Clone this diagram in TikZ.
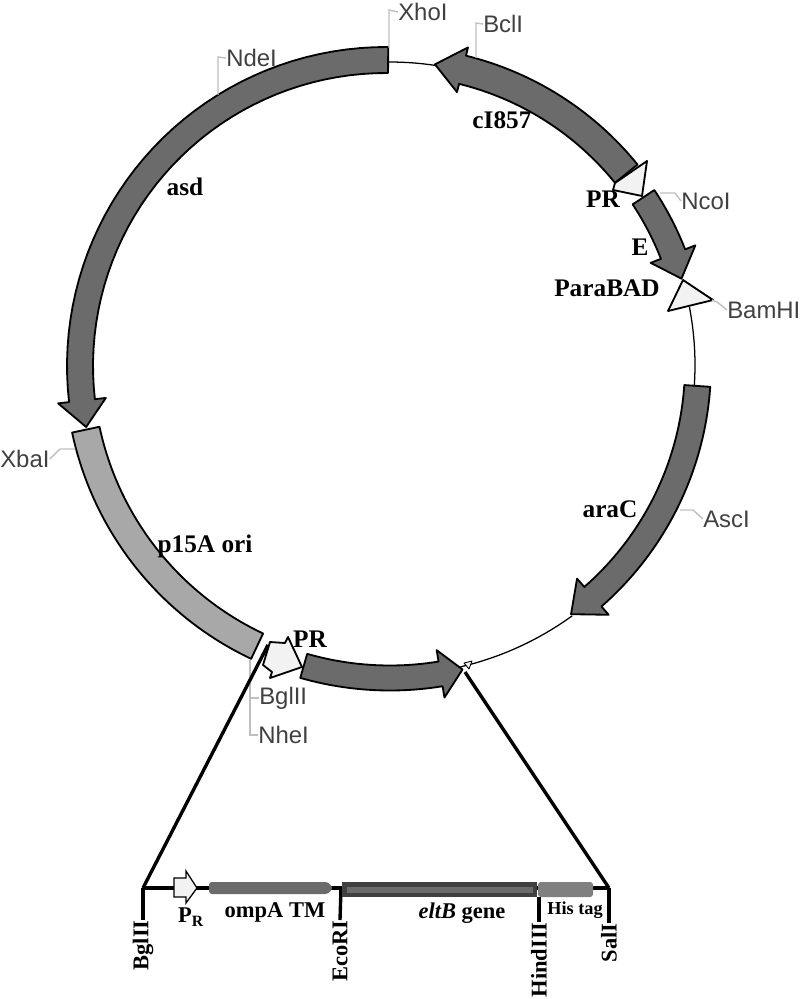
\documentclass[tikz,border=0pt]{standalone}
\usepackage{fontspec}
\setmainfont{Liberation Serif}
\setsansfont{Liberation Sans}
\usepackage{tikz}
\usetikzlibrary{arrows.meta,positioning}

\definecolor{genedark}{gray}{0.42}
\definecolor{genemid}{gray}{0.66}
\definecolor{promoter}{gray}{0.95}
\definecolor{leadergray}{gray}{0.75}

\tikzset{
  genearrow/.style={draw=black, line width=1.3pt, line join=round},
  backbone/.style={draw=black, line width=0.9pt},
  leader/.style={draw=leadergray, line width=1pt},
  sitelabel/.style={font=\sffamily\fontsize{17}{20}\selectfont, text=black!75, inner sep=0pt},
  genelabel/.style={font=\bfseries\fontsize{18}{20}\selectfont, inner sep=0pt},
  maplabel/.style={font=\bfseries\fontsize{16}{18}\selectfont, inner sep=0pt},
  mapline/.style={draw=black, line width=2.4pt},
  sitecut/.style={maplabel, rotate=90, anchor=east}
}

% #1 radius, #2 half width, #3 head half width, #4 start, #5 head base, #6 tip, #7 fill
\newcommand{\genearc}[7]{
  \path[genearrow, fill=#7]
    plot[domain=#4:#5, samples=40] (\x:{#1+#2})
    -- (#5:{#1+#3}) -- (#6:#1) -- (#5:{#1-#3})
    -- plot[domain=#5:#4, samples=40] (\x:{#1-#2}) -- cycle;
}

\begin{document}
\begin{tikzpicture}[x=0.025cm, y=-0.025cm]
  \useasboundingbox (0,0) rectangle (800,999);

  \begin{scope}[shift={(390,365)}]
    \draw[backbone] plot[domain=-91:-81, samples=8] (\x:303);
    \draw[backbone] plot[domain=-11:4, samples=12] (\x:305);
    \draw[backbone] plot[domain=54:77, samples=16] (\x:310);
    \genearc{304}{14.5}{23}{-39}{-76.2}{-81.5}{genedark}
    \genearc{304}{13}{24}{-33.5}{-21.4}{-16.5}{genedark}
    \genearc{308}{13}{24}{3.9}{48.8}{54}{genedark}
    \genearc{313}{12.5}{24}{106}{80.7}{76.6}{genedark}
    \genearc{311}{14}{14}{168}{115.3}{115.3}{genemid}
  \end{scope}
  \begin{scope}[shift={(386,366)}]
    \genearc{306}{13}{24}{270.4}{173.5}{168.5}{genedark}
  \end{scope}

  \path[genearrow, fill=promoter] (647,161) -- (615,183) -- (613,190) -- (642,196) -- cycle;
  \path[genearrow, fill=promoter] (683,280) -- (713,300) -- (668,311) -- cycle;
  \path[genearrow, fill=promoter] (270,642) -- (285,643) -- (288,637) -- (302,667) -- (270,678) -- (272,672) -- (263,665) -- cycle;
  \path[genearrow, fill=promoter, line width=0.6pt] (464,663) -- (472,661) -- (469,669) -- cycle;

  \node[genelabel] (cilabel) at (502,120) {cI857};
  \node[genelabel] (asdlabel) at (185,187) {asd};
  \node[genelabel] (prtop) at (603,199) {PR};
  \node[genelabel] (elabel) at (640,247) {E};
  \node[genelabel] (paralabel) at (607,288) {ParaBAD};
  \node[genelabel] (araclabel) at (610,509) {araC};
  \node[genelabel] (orilabel) at (205,546) {p15A ori};
  \node[genelabel] (prbottom) at (310,639) {PR};

  \node[sitelabel, anchor=west] (xhoi) at (398,12) {XhoI};
  \node[sitelabel, anchor=west] (bcli) at (483,24) {BclI};
  \node[sitelabel, anchor=west] (ndei) at (226,58) {NdeI};
  \node[sitelabel, anchor=west] (ncoi) at (681,201) {NcoI};
  \node[sitelabel, anchor=west] (bamhi) at (727,310) {BamHI};
  \node[sitelabel, anchor=west] (asci) at (703,519) {AscI};
  \node[sitelabel, anchor=west] (xbai) at (0,459) {XbaI};
  \node[sitelabel, anchor=west] (bglii) at (259,698) {BglII};
  \node[sitelabel, anchor=west] (nhei) at (258,735) {NheI};

  \draw[leader] (xhoi.west) -- (389,10) -- (389,48);
  \draw[leader] (bcli.west) -- (476,23) -- (476,58);
  \draw[leader] (ndei.west) -- (218,57) -- (218,95);
  \draw[leader] (ncoi.west) -- (675,193) -- (660,193);
  \draw[leader] (bamhi.west) -- (717,302) -- (712,300);
  \draw[leader] (asci.west) -- (693,510) -- (680,510);
  \draw[leader] (xbai.east) -- (60,449) -- (75,449);
  \draw[leader] (bglii.west) -- (250,698);
  \draw[leader] (nhei.west) -- (250,735) -- (250,660);

  % expanded insert
  \coordinate (bglsite) at (143,888);
  \coordinate (ecosite) at (341,888);
  \coordinate (hindsite) at (539,897);
  \coordinate (salsite) at (609,888);

  \node[sitecut] (bgllabel) at (143,920) {BglII};
  \node[sitecut] (ecolabel) at (340,920) {EcoRI};
  \node[sitecut] (hindlabel) at (539,922) {HindIII};
  \node[sitecut] (sallabel) at (609,923) {SalI};

  \draw[mapline] (bglsite) -- (salsite);
  \draw[mapline] (bglsite) -- (bgllabel.east);
  \draw[mapline] (ecosite) -- (ecolabel.east);
  \draw[mapline] (hindsite) -- (hindlabel.east);
  \draw[mapline] (salsite) -- (sallabel.east);
  \draw[mapline] (268,645) -- (bglsite);
  \draw[mapline] (465,672) -- (salsite);

  \path[draw=black, fill=promoter, line width=0.9pt] (174,878) -- (186,878) -- (186,871) -- (197,888) -- (186,903) -- (186,897) -- (174,897) -- cycle;
  \fill[black!58, rounded corners=2pt] (209,882) -- (328,882) -- (333,888) -- (328,894) -- (209,894) -- cycle;
  \fill[black!75] (342,882) rectangle (537,897);
  \fill[black!58] (347,887) rectangle (533,893);
  \fill[black!50, rounded corners=2pt] (538,882) rectangle (593,897);

  \node[maplabel] (prlabel) at (191,917) {P\textsubscript{R}};
  \node[maplabel] (ompalabel) at (275,912) {ompA TM};
  \node[maplabel] (eltblabel) at (462,913) {\textit{eltB} gene};
  \node[maplabel, font=\bfseries\fontsize{13}{15}\selectfont] (hislabel) at (575,910) {His tag};
\end{tikzpicture}
\end{document}
